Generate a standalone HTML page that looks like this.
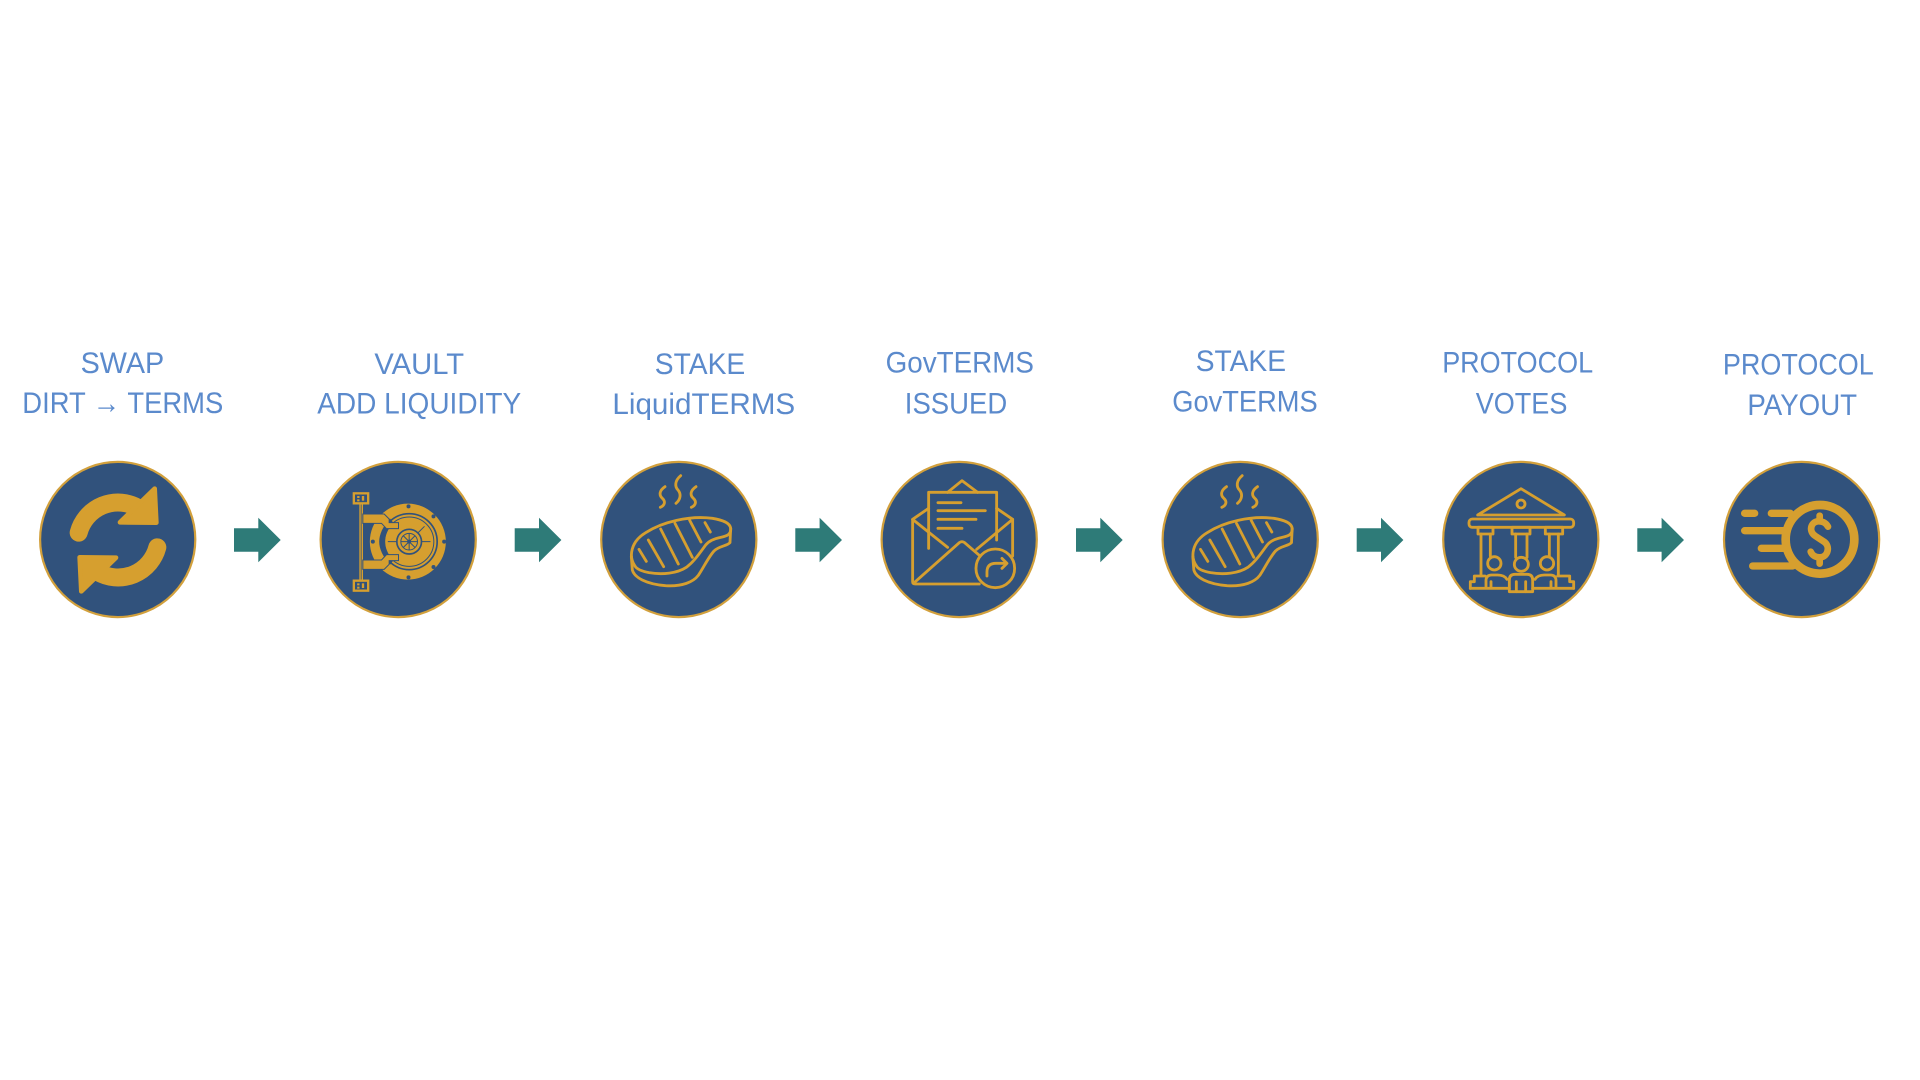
<!DOCTYPE html>
<html>
<head>
<meta charset="utf-8">
<style>
  html, body { margin: 0; padding: 0; background: #ffffff; }
  body { width: 1920px; height: 1080px; overflow: hidden; }
  svg { display: block; }
  .lbl { font-family: "Liberation Sans", "DejaVu Sans", sans-serif; font-size: 30px; fill: #5b8acc; }
</style>
</head>
<body>
<svg width="1920" height="1080" viewBox="0 0 1920 1080" xmlns="http://www.w3.org/2000/svg">
  <defs>
    <g id="steak" fill="none" stroke="#d69f2f" stroke-width="8.5" stroke-linecap="round" stroke-linejoin="round">
      <!-- steam -->
      <path d="M 198 80 C 180 92, 180 106, 190 115 C 200 124, 198 136, 184 142"/>
      <path d="M 245 47 C 227 62, 227 80, 237 90 C 247 102, 245 118, 231 130"/>
      <path d="M 291 80 C 273 92, 273 106, 283 115 C 293 124, 291 136, 277 142"/>
      <!-- top face -->
      <path d="M 108 318 C 88 290, 95 245, 140 218 C 190 186, 270 166, 340 175 C 370 180, 393 188, 395 205 C 397 222, 385 228, 365 232 C 345 236, 330 242, 320 255 C 300 282, 285 305, 262 322 C 235 340, 190 345, 150 338 C 125 333, 112 326, 108 318 Z"/>
      <!-- side -->
      <path d="M 97 290 L 100 330 C 106 352, 140 372, 200 377 C 250 380, 283 366, 298 346 C 314 322, 328 292, 345 273 C 360 258, 385 258, 393 248 L 395 205"/>
      <!-- grill lines -->
      <path d="M 120 268 L 142 304"/>
      <path d="M 148 240 L 194 320"/>
      <path d="M 185 207 L 238 312"/>
      <path d="M 228 190 L 280 292"/>
      <path d="M 272 181 L 306 246"/>
      <path d="M 318 188 L 334 216"/>
    </g>
  </defs>

  <!-- Labels -->
  <text class="lbl" x="80.6" y="373" textLength="83.6" lengthAdjust="spacingAndGlyphs">SWAP</text>
  <text class="lbl" x="22.3" y="413" textLength="201" lengthAdjust="spacingAndGlyphs">DIRT → TERMS</text>

  <text class="lbl" x="374.4" y="374" textLength="89.7" lengthAdjust="spacingAndGlyphs">VAULT</text>
  <text class="lbl" x="317.2" y="413.5" textLength="204" lengthAdjust="spacingAndGlyphs">ADD LIQUIDITY</text>

  <text class="lbl" x="654.8" y="374" textLength="90.4" lengthAdjust="spacingAndGlyphs">STAKE</text>
  <text class="lbl" x="612.4" y="414" textLength="182.8" lengthAdjust="spacingAndGlyphs">LiquidTERMS</text>

  <text class="lbl" x="885.6" y="372.3" textLength="148.4" lengthAdjust="spacingAndGlyphs">GovTERMS</text>
  <text class="lbl" x="904.8" y="413.3" textLength="102.4" lengthAdjust="spacingAndGlyphs">ISSUED</text>

  <text class="lbl" x="1195.7" y="371.2" textLength="90.3" lengthAdjust="spacingAndGlyphs">STAKE</text>
  <text class="lbl" x="1172.3" y="411.7" textLength="145.4" lengthAdjust="spacingAndGlyphs">GovTERMS</text>

  <text class="lbl" x="1442.2" y="372.3" textLength="150.9" lengthAdjust="spacingAndGlyphs">PROTOCOL</text>
  <text class="lbl" x="1475.7" y="413.3" textLength="91.7" lengthAdjust="spacingAndGlyphs">VOTES</text>

  <text class="lbl" x="1722.9" y="374.3" textLength="150.9" lengthAdjust="spacingAndGlyphs">PROTOCOL</text>
  <text class="lbl" x="1747.4" y="415" textLength="109.7" lengthAdjust="spacingAndGlyphs">PAYOUT</text>

  <!-- Arrows -->
  <g fill="#2e7b78">
    <path d="M 234 528.3 H 258.3 V 517.7 L 280.7 540 L 258.3 562.3 V 551.7 H 234 Z"/>
    <path d="M 514.7 528.3 H 539 V 517.7 L 561.4 540 L 539 562.3 V 551.7 H 514.7 Z"/>
    <path d="M 795.3 528.3 H 819.6 V 517.7 L 842 540 L 819.6 562.3 V 551.7 H 795.3 Z"/>
    <path d="M 1076 528.3 H 1100.3 V 517.7 L 1122.7 540 L 1100.3 562.3 V 551.7 H 1076 Z"/>
    <path d="M 1356.7 528.3 H 1381 V 517.7 L 1403.4 540 L 1381 562.3 V 551.7 H 1356.7 Z"/>
    <path d="M 1637.3 528.3 H 1661.6 V 517.7 L 1684 540 L 1661.6 562.3 V 551.7 H 1637.3 Z"/>
  </g>

  <!-- Circles -->
  <g fill="#31527c" stroke="#d2a03c" stroke-width="2.2">
    <circle cx="117.7" cy="539.5" r="77.6"/>
    <circle cx="398.2" cy="539.5" r="77.6"/>
    <circle cx="678.8" cy="539.5" r="77.6"/>
    <circle cx="959.2" cy="539.5" r="77.6"/>
    <circle cx="1240.2" cy="539.5" r="77.6"/>
    <circle cx="1520.8" cy="539.5" r="77.6"/>
    <circle cx="1801.6" cy="539.5" r="77.6"/>
  </g>

  <!-- Icon 1: swap -->
  <g transform="translate(38,460) scale(0.33333)">
    <g>
      <path d="M 122 218 A 122 122 0 0 1 301 144" fill="none" stroke="#d69f2f" stroke-width="54" stroke-linecap="round"/>
      <polygon points="350,86 355,188 246,187" fill="#d69f2f" stroke="#d69f2f" stroke-width="14" stroke-linejoin="round"/>
    </g>
    <g transform="rotate(180 240 240)">
      <path d="M 122 218 A 122 122 0 0 1 301 144" fill="none" stroke="#d69f2f" stroke-width="54" stroke-linecap="round"/>
      <polygon points="350,86 355,188 246,187" fill="#d69f2f" stroke="#d69f2f" stroke-width="14" stroke-linejoin="round"/>
    </g>
  </g>

  <!-- Icon 2: vault -->
  <g transform="translate(318.5,460) scale(0.33333)">
    <circle cx="268" cy="245" r="114" fill="#d69f2f"/>
    <circle cx="272" cy="245" r="84" fill="none" stroke="#31527c" stroke-width="5"/>
    <circle cx="272" cy="245" r="74" fill="none" stroke="#31527c" stroke-width="3"/>
    <path d="M 215 176 C 192 200, 182 225, 182 245 C 182 265, 192 290, 215 314 L 224 302 C 206 280, 200 262, 200 245 C 200 228, 206 210, 224 188 Z" fill="#31527c"/>
    <!-- bolts -->
    <g fill="#31527c">
      <circle cx="270" cy="139" r="6"/>
      <circle cx="345" cy="169" r="6"/>
      <circle cx="377" cy="245" r="6"/>
      <circle cx="345" cy="321" r="6"/>
      <circle cx="270" cy="352" r="6"/>
      <circle cx="163" cy="245" r="6"/>
    </g>
    <!-- wheel -->
    <g fill="none" stroke="#31527c">
      <circle cx="272" cy="245" r="37" stroke-width="5"/>
      <circle cx="272" cy="245" r="25" stroke-width="3"/>
      <path d="M 247 245 H 297 M 272 220 V 270 M 254 227 L 290 263 M 290 227 L 254 263" stroke-width="3"/>
      <path d="M 208 245 H 235 M 309 245 H 336 M 298 219 L 318 199" stroke-width="3"/>
    </g>
    <circle cx="272" cy="245" r="6" fill="#31527c"/>
    <!-- rod -->
    <line x1="128" y1="128" x2="128" y2="364" stroke="#d69f2f" stroke-width="11"/>
    <line x1="128" y1="132" x2="128" y2="360" stroke="#31527c" stroke-width="2.5"/>
    <!-- boxes -->
    <rect x="106" y="100" width="43" height="30" fill="#31527c" stroke="#d69f2f" stroke-width="7"/>
    <rect x="116" y="108" width="7" height="6" fill="#d69f2f"/>
    <rect x="116" y="118" width="7" height="6" fill="#d69f2f"/>
    <rect x="130" y="108" width="7" height="14" fill="#d69f2f"/>
    <rect x="106" y="362" width="43" height="30" fill="#31527c" stroke="#d69f2f" stroke-width="7"/>
    <rect x="116" y="370" width="7" height="6" fill="#d69f2f"/>
    <rect x="116" y="380" width="7" height="6" fill="#d69f2f"/>
    <rect x="130" y="370" width="7" height="14" fill="#d69f2f"/>
    <!-- hinges -->
    <path d="M 133 162 H 197 L 212 177 V 188 H 240 V 206 H 204 L 189 190 H 133 Z" fill="#d69f2f" stroke="#31527c" stroke-width="3"/>
    <path d="M 133 328 H 197 L 212 313 V 302 H 240 V 284 H 204 L 189 300 H 133 Z" fill="#d69f2f" stroke="#31527c" stroke-width="3"/>
  </g>

  <!-- Icon 3: steak -->
  <use href="#steak" transform="translate(599,460) scale(0.33333)"/>

  <!-- Icon 4: envelope -->
  <g transform="translate(879.3,460) scale(0.33333)" fill="none" stroke="#d69f2f" stroke-width="8.5" stroke-linecap="round" stroke-linejoin="round">
    <path d="M 148 265 V 97 H 352 V 240"/>
    <path d="M 205 97 L 248 62 L 295 97"/>
    <path d="M 148 145 L 100 178 V 365 Q 100 372 108 372 H 300"/>
    <path d="M 352 145 L 400 178 V 288"/>
    <path d="M 100 178 L 205 262"/>
    <path d="M 400 178 L 292 268"/>
    <path d="M 108 365 L 240 248 Q 248 242 256 248 L 300 286"/>
    <path d="M 176 128 H 245"/>
    <path d="M 176 152 H 318"/>
    <path d="M 176 178 H 290"/>
    <path d="M 176 205 H 248"/>
    <circle cx="348" cy="325" r="58"/>
    <path d="M 323 348 V 336 Q 323 310 350 310 H 382"/>
    <path d="M 368 295 L 383 310 L 368 325"/>
  </g>

  <!-- Icon 5: steak -->
  <use href="#steak" transform="translate(1160.5,460) scale(0.33333)"/>

  <!-- Icon 6: bank with people -->
  <g transform="translate(1441,460) scale(0.33333)" fill="none" stroke="#d69f2f" stroke-width="8.5" stroke-linecap="round" stroke-linejoin="round">
    <path d="M 110 165 L 240 86 L 370 165 Z"/>
    <circle cx="240" cy="132" r="12"/>
    <rect x="84" y="177" width="314" height="25" rx="10"/>
    <rect x="111" y="202" width="45" height="20"/>
    <rect x="213" y="202" width="54" height="20"/>
    <rect x="313" y="202" width="52" height="20"/>
    <path d="M 120 222 V 345 M 148 222 V 288"/>
    <path d="M 224 222 V 292 M 258 222 V 292"/>
    <path d="M 325 222 V 288 M 352 222 V 345"/>
    <circle cx="160" cy="310" r="20"/>
    <circle cx="241" cy="313" r="21"/>
    <circle cx="318" cy="310" r="20"/>
    <path d="M 135 383 V 362 Q 135 345 152 345 H 170 Q 190 345 198 358"/>
    <path d="M 205 395 V 360 Q 205 343 222 343 H 258 Q 275 343 275 360 V 395 Z"/>
    <path d="M 282 358 Q 290 345 310 345 H 328 Q 345 345 345 362 V 383"/>
    <path d="M 150 365 V 383 M 226 365 V 395 M 254 365 V 395 M 330 365 V 383"/>
    <path d="M 88 385 V 365 H 100 V 348 H 132"/>
    <path d="M 398 385 V 365 H 386 V 348 H 350"/>
    <path d="M 88 385 H 205 M 275 385 H 398"/>
  </g>

  <!-- Icon 7: coin -->
  <g transform="translate(1722,460) scale(0.33333)" fill="none" stroke="#d69f2f" stroke-linecap="round" stroke-linejoin="round">
    <circle cx="294" cy="238" r="103" stroke-width="26"/>
    <path d="M 318 200 C 311 186, 298 183, 287 184 C 266 187, 259 214, 280 228 L 306 245 C 326 259, 318 290, 295 292 C 280 293, 270 285, 266 275" stroke-width="20"/>
    <path d="M 293 167 V 181 M 293 297 V 311" stroke-width="20"/>
    <path d="M 68 160 H 98 M 148 160 H 205 M 68 212 H 185 M 118 265 H 185 M 92 318 H 212" stroke-width="22"/>
  </g>
</svg>
</body>
</html>
